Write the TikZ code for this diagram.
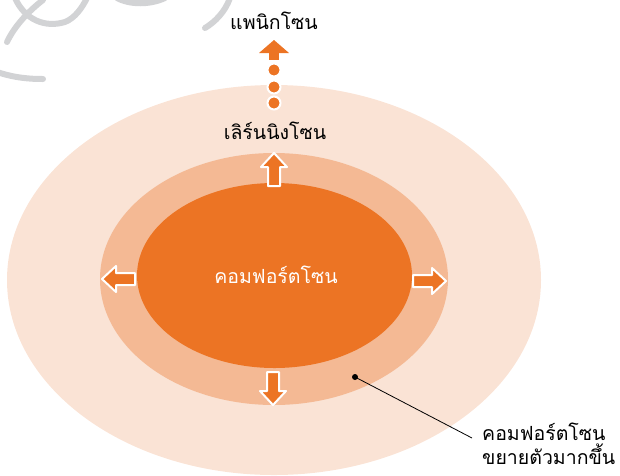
\documentclass[tikz,border=0pt]{standalone}
\usepackage{fontspec}
\newfontfamily\thaifont[Script=Thai]{Loma}
\definecolor{zoneout}{HTML}{FAE3D5}
\definecolor{zonemid}{HTML}{F4B994}
\definecolor{zonein}{HTML}{EC7424}
\definecolor{scrib}{HTML}{D2D3D5}
\begin{document}
\begin{tikzpicture}[x=1pt,y=-1pt,
  blk/.style={fill=zonein,draw=white,line width=2pt,line join=round},
  dotc/.style={fill=zonein,draw=white,line width=2pt},
  scribble/.style={draw=scrib,line width=6pt,line cap=round},
  lbl/.style={font=\thaifont\fontsize{19.5}{24}\selectfont,inner sep=0pt},
  pics/blockarrow/.style={code={
    \path[blk] (0,-6) -- (19,-6) -- (19,-13) -- (33,0) -- (19,13) -- (19,6) -- (0,6) -- cycle;}}]
\useasboundingbox (0,0) rectangle (620,475);
% scribbles
\path[scribble] (7,42) .. controls (15,25) and (30,10) .. (43,0);
\path[scribble] (15,-2) .. controls (25,20) and (45,28) .. (65,22) .. controls (75,18) and (82,8) .. (87,-2);
\path[scribble] (117,-2) .. controls (130,5) and (150,5) .. (165,-2);
\path[scribble] (230,-2) .. controls (225,12) and (215,22) .. (205,28);
\path[scribble] (-3,72) .. controls (15,78) and (30,79) .. (43,79);
% ellipses
\fill[zoneout] (274,280) ellipse [x radius=267,y radius=195];
\fill[zonemid] (274,279) ellipse [x radius=174,y radius=126];
\fill[zonein] (274.5,275.5) ellipse [x radius=137.5,y radius=92.5];
% arrows
\pic[rotate=90] at (274,186) {blockarrow};
\pic[rotate=-90] at (273,372) {blockarrow};
\pic[rotate=180] at (135,279) {blockarrow};
\pic at (413,281) {blockarrow};
% top arrow with dots
\path[dotc] (274,103) circle [radius=6.5];
\path[dotc] (274,87) circle [radius=6.5];
\path[dotc] (274,70) circle [radius=6.5];
\path[fill=zonein] (269,52) rectangle (279,60);
\path[fill=zonein,line join=round] (274,40) -- (289,53) -- (259,53) -- cycle;
% texts
\node[lbl] (panic) at (274,21) {แพนิกโซน};
\node[lbl] (learn) at (275,131) {เลิร์นนิงโซน};
\node[lbl,text=white] (comfort) at (276,275) {คอมฟอร์ตโซน};
\node[lbl,anchor=north west,align=left] (grow) at (482,423) {คอมฟอร์ตโซน\\ขยายตัวมากขึ้น};
\coordinate (pt) at (355,377);
\fill (pt) circle [radius=3];
\draw[line width=0.8pt] (pt) -- (472,438);
\end{tikzpicture}
\end{document}
